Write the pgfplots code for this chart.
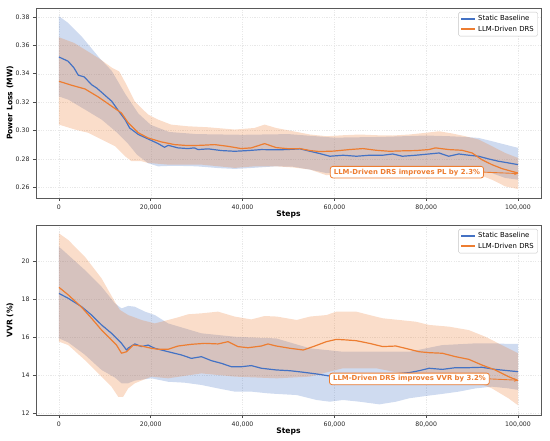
\documentclass[border=0pt]{standalone}
\usepackage{fontspec}
\setmainfont{DejaVu Sans}
\usepackage{pgfplots}
\usepackage{pgfplotstable}
\pgfplotsset{compat=1.18}
\usepgfplotslibrary{fillbetween}
\usetikzlibrary{arrows.meta}
\definecolor{cblue}{RGB}{68,114,196}
\definecolor{corange}{RGB}{237,125,49}

% ---------------- Power loss ----------------
\pgfplotstableread{
x y
0 0.3518
2000 0.3488
3300 0.3440
4200 0.3390
5500 0.3378
7100 0.3323
8200 0.3300
9300 0.3269
11500 0.3206
13300 0.3124
14400 0.3077
15400 0.3018
17300 0.2972
19400 0.2941
21600 0.2908
23000 0.2882
23800 0.2896
25900 0.2878
28100 0.2873
29500 0.2878
30300 0.2866
32500 0.2871
35400 0.2859
38300 0.2854
41200 0.2859
44100 0.2866
47300 0.2864
49600 0.2866
52500 0.2871
54700 0.2854
56800 0.2838
59000 0.2819
61900 0.2826
64800 0.2819
67600 0.2826
70500 0.2826
72700 0.2835
74800 0.2819
77700 0.2826
80600 0.2835
82800 0.2842
84900 0.2819
87100 0.2835
89300 0.2826
91400 0.2819
93600 0.2800
95700 0.2784
97900 0.2772
100000 0.2760
}\plb
\pgfplotstableread{
x y
0 0.3805
2000 0.3758
5000 0.3660
8800 0.3512
11500 0.3420
14400 0.3260
17300 0.3120
20000 0.3040
24000 0.2990
30000 0.2975
40000 0.2970
50000 0.2975
60000 0.2950
70000 0.2955
80000 0.2965
85000 0.2960
88500 0.2955
91400 0.2948
94300 0.2925
97200 0.2901
100000 0.2878
}\plbu
\pgfplotstableread{
x y
0 0.3240
2000 0.3218
5650 0.3148
9300 0.3077
12700 0.2984
14900 0.2913
17000 0.2830
19400 0.2770
21600 0.2748
25000 0.2752
30000 0.2748
35000 0.2735
38300 0.2730
41200 0.2735
47300 0.2748
51000 0.2745
54700 0.2725
58300 0.2700
61900 0.2710
69100 0.2713
76300 0.2715
83000 0.2718
88000 0.2715
91400 0.2712
94300 0.2700
97200 0.2666
100000 0.2654
}\plbl
\pgfplotstableread{
x y
0 0.3347
2750 0.3319
5650 0.3293
8550 0.3237
11500 0.3171
13600 0.3124
15100 0.3054
17300 0.2984
19400 0.2948
22300 0.2920
25200 0.2901
28100 0.2894
31000 0.2896
33900 0.2901
36800 0.2889
39700 0.2873
41900 0.2878
44800 0.2908
47300 0.2880
50300 0.2871
52500 0.2873
54700 0.2859
56800 0.2852
59700 0.2855
63300 0.2866
66200 0.2873
69100 0.2861
72000 0.2854
74800 0.2857
77700 0.2859
80600 0.2866
82000 0.2878
84900 0.2866
87800 0.2861
90000 0.2842
92100 0.2795
94300 0.2760
96500 0.2732
98600 0.2713
100000 0.2701
}\plo
\pgfplotstableread{
x y
0 0.3657
3300 0.3617
6800 0.3547
8900 0.3504
11600 0.3441
13100 0.3417
14500 0.3335
16500 0.3206
19400 0.3113
21600 0.3077
24400 0.3042
28100 0.3030
32500 0.3023
38300 0.3007
42600 0.3018
44800 0.3042
47300 0.3018
51000 0.2995
54700 0.2972
58300 0.2960
61900 0.2967
65500 0.2972
69100 0.2967
72700 0.2965
76300 0.2972
79900 0.2984
82800 0.2995
85700 0.2979
88500 0.2960
91400 0.2937
94300 0.2890
97200 0.2842
100000 0.2807
}\plou
\pgfplotstableread{
x y
0 0.3042
3500 0.3007
6400 0.2984
9300 0.2937
12200 0.2890
14400 0.2819
15800 0.2784
18000 0.2784
19400 0.2772
23800 0.2760
31000 0.2760
38300 0.2737
42600 0.2748
47300 0.2748
51000 0.2740
54700 0.2725
58300 0.2685
61900 0.2706
69100 0.2713
76300 0.2708
83000 0.2713
87100 0.2713
91400 0.2690
94300 0.2654
97200 0.2607
100000 0.2588
}\plol

% ---------------- VVR ----------------
\pgfplotstableread{
x y
0 18.33
2030 18.07
4930 17.63
7100 17.19
9280 16.67
11450 16.23
13630 15.70
14720 15.35
15080 15.45
16530 15.67
17980 15.53
19430 15.61
20880 15.44
22330 15.35
23780 15.26
26680 15.09
28850 14.91
31030 15.00
33200 14.79
35380 14.65
37560 14.47
39730 14.47
41900 14.53
44080 14.39
47340 14.30
50340 14.26
53220 14.18
56110 14.09
58990 13.98
61870 14.00
64760 14.04
67640 14.09
70520 14.07
73410 14.09
76290 14.16
78450 14.26
80610 14.39
83500 14.33
86380 14.42
89260 14.42
92140 14.44
95030 14.33
97910 14.26
100000 14.21
}\vb
\pgfplotstableread{
x y
0 20.79
5650 19.56
9280 18.68
12180 17.81
13630 17.54
15080 17.67
16530 17.63
18700 17.37
20880 17.19
23780 16.75
31030 16.23
38280 16.05
47340 15.96
54670 15.44
61870 15.26
69080 15.26
76290 15.26
83500 15.61
90700 15.70
95030 15.70
97910 15.67
100000 15.67
}\vbu
\pgfplotstableread{
x y
0 15.96
2030 15.75
5650 15.10
9280 14.30
12180 13.90
13630 13.60
15080 13.60
16530 13.74
20150 13.86
23780 13.68
27400 13.63
31030 13.51
34650 13.33
38280 13.16
41900 13.16
45530 13.07
47460 13.04
51780 12.98
56110 12.72
58990 12.63
61870 12.72
65480 12.63
69800 12.49
73410 12.63
76290 12.81
79890 12.93
83500 13.04
87100 13.16
90700 13.33
94310 13.42
97910 13.33
100000 13.25
}\vbl
\pgfplotstableread{
x y
0 18.65
2030 18.25
4930 17.60
7100 17.02
9280 16.40
11450 15.88
12540 15.61
13630 15.18
14720 15.26
16170 15.61
17980 15.56
20150 15.44
21600 15.39
23780 15.39
25950 15.56
28850 15.65
31750 15.70
34650 15.67
36830 15.79
39000 15.53
41180 15.47
44080 15.56
45530 15.67
47340 15.56
50340 15.44
53220 15.35
55390 15.53
58270 15.79
60430 15.91
62590 15.88
64760 15.84
67640 15.70
70520 15.53
73410 15.56
76290 15.39
78450 15.26
80610 15.21
83500 15.18
86380 15.00
89260 14.86
92140 14.56
95030 14.30
97910 13.95
100000 13.74
}\vo
\pgfplotstableread{
x y
0 21.49
2030 21.14
5650 20.26
9280 19.12
12180 17.89
13270 17.46
15080 17.19
17980 16.93
20880 16.75
23780 16.93
25950 17.07
28130 17.23
31030 17.28
34650 17.37
38280 17.11
41900 16.96
44800 17.14
47460 17.11
51780 16.93
54670 17.11
58270 17.19
60430 17.37
64760 17.37
67640 17.19
70520 17.02
74130 16.93
77730 16.84
80610 16.67
84940 16.58
89260 16.40
92860 16.05
96470 15.61
100000 15.18
}\vou
\pgfplotstableread{
x y
0 15.79
2030 15.61
5650 14.82
9280 13.95
11450 13.42
12900 12.89
13990 12.89
15080 13.33
16530 13.60
20150 13.95
23780 13.86
31030 14.12
38280 13.95
47460 13.86
54670 13.95
61870 14.39
69080 14.39
76290 14.04
83500 13.95
90700 13.68
94310 13.33
97910 12.81
100000 12.44
}\vol

\tikzset{
  annot/.style={draw=corange, line width=0.8pt, fill=white, rounded corners=2.5pt,
    text=corange, font=\fontsize{6.9}{8}\bfseries\selectfont, inner xsep=3.6pt, inner ysep=2.4pt},
}
\pgfplotsset{
  myaxis/.style={
    scale only axis, width=505pt, height=190pt,
    xmin=-5000, xmax=105000,
    xtick={0,20000,40000,60000,80000,100000},
    scaled x ticks=false, scaled y ticks=false,
    xticklabel style={/pgf/number format/.cd, fixed, 1000 sep={,}},
    /pgf/number format/assume math mode=true,
    tick label style={font=\fontsize{6.2}{7}\selectfont, black!85},
    tick align=outside, tick pos=left,
    major tick length=3pt,
    tick style={black!70, line width=0.6pt},
    axis line style={black!65, line width=0.7pt},
    grid=major,
    major grid style={gray!18, dash pattern=on 1.2pt off 1.2pt, line width=0.45pt},
    xlabel={Steps},
    xlabel style={font=\fontsize{7.6}{9}\bfseries\selectfont, at={(axis description cs:0.5,-0.087)}, anchor=center},
    ylabel style={font=\fontsize{7.6}{9}\bfseries\selectfont, at={(axis description cs:-0.0515,0.5)}, anchor=center},
    legend style={at={(axis description cs:0.994,0.979)}, anchor=north east,
      font=\fontsize{6.9}{8}\selectfont, draw=gray!45, rounded corners=1.5pt,
      inner xsep=2pt, inner ysep=1.5pt, row sep=-0.5pt},
    legend cell align=left,
    legend image code/.code={\draw[#1, line width=1.6pt] (0pt,0pt) -- (14pt,0pt);},
  },
  bline/.style={cblue, line width=1.2pt, line join=round},
  oline/.style={corange, line width=1.2pt, line join=round},
  bfill/.style={fill=cblue, fill opacity=0.26, draw=none},
  ofill/.style={fill=corange, fill opacity=0.26, draw=none},
}

\begin{document}
\begin{tikzpicture}
\path (0,0) rectangle (550pt,441pt);

\begin{axis}[myaxis, at={(36pt,243pt)}, anchor=south west,
  ymin=0.2525, ymax=0.3863,
  ytick={0.26,0.28,0.30,0.32,0.34,0.36,0.38},
  yticklabel style={/pgf/number format/.cd, fixed, fixed zerofill, precision=2},
  ylabel={Power Loss (MW)}]
  \addplot[draw=none, name path=bu, forget plot] table {\plbu};
  \addplot[draw=none, name path=bl, forget plot] table {\plbl};
  \addplot[bfill, forget plot] fill between[of=bu and bl];
  \addplot[draw=none, name path=ou, forget plot] table {\plou};
  \addplot[draw=none, name path=ol, forget plot] table {\plol};
  \addplot[ofill, forget plot] fill between[of=ou and ol];
  \addplot[bline] table {\plb};
  \addlegendentry{Static Baseline}
  \addplot[oline] table {\plo};
  \addlegendentry{LLM-Driven DRS}
  \node[annot] (a1) at (axis cs:75800,0.2707) {LLM-Driven DRS improves PL by 2.3\%};
  \draw[corange, line width=0.9pt, -{Stealth[length=4pt,width=3.5pt]}] (a1.east) -- (axis cs:100000,0.2697);
\end{axis}

\begin{axis}[myaxis, at={(36pt,26pt)}, anchor=south west,
  ymin=11.93, ymax=21.93,
  ytick={12,14,16,18,20},
  ylabel={VVR (\%)}]
  \addplot[draw=none, name path=bu, forget plot] table {\vbu};
  \addplot[draw=none, name path=bl, forget plot] table {\vbl};
  \addplot[bfill, forget plot] fill between[of=bu and bl];
  \addplot[draw=none, name path=ou, forget plot] table {\vou};
  \addplot[draw=none, name path=ol, forget plot] table {\vol};
  \addplot[ofill, forget plot] fill between[of=ou and ol];
  \addplot[bline] table {\vb};
  \addlegendentry{Static Baseline}
  \addplot[oline] table {\vo};
  \addlegendentry{LLM-Driven DRS}
  \node[annot] (a2) at (axis cs:76340,13.83) {LLM-Driven DRS improves VVR by 3.2\%};
  \draw[corange, line width=0.9pt, -{Stealth[length=4pt,width=3.5pt]}] (a2.east) -- (axis cs:100000,13.76);
\end{axis}
\end{tikzpicture}
\end{document}
